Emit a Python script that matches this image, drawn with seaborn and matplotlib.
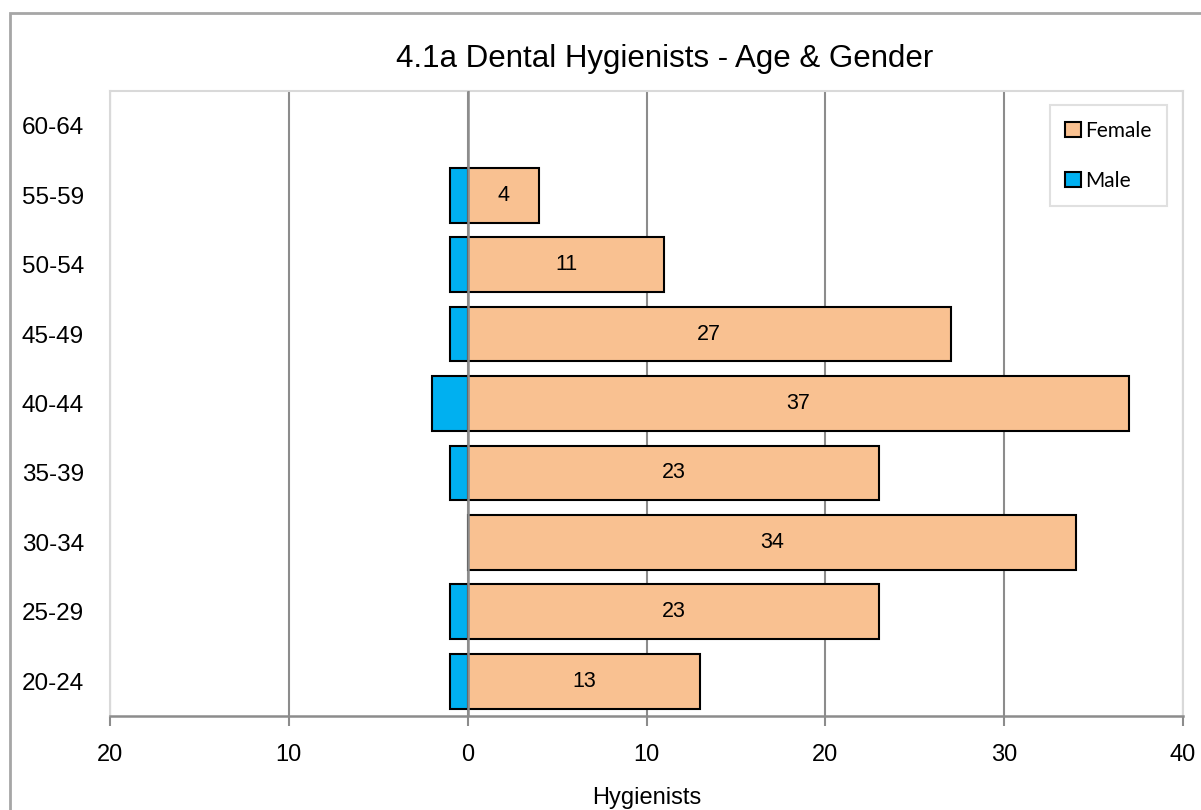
import matplotlib
matplotlib.use("Agg")
import matplotlib.pyplot as plt
import matplotlib.patches as mpatches
from matplotlib.ticker import FuncFormatter, FixedLocator
import seaborn as sns
import pandas as pd

age_groups = ["60-64", "55-59", "50-54", "45-49", "40-44", "35-39", "30-34", "25-29", "20-24"]
female = [0, 4, 11, 27, 37, 23, 34, 23, 13]
male = [0, 1, 1, 1, 2, 1, 0, 1, 1]
x_ticks = [-20, -10, 0, 10, 20, 30, 40]

title = "4.1a Dental Hygienists - Age & Gender"
xlabel = "Hygienists"

sns.set_theme(style="white")
plt.rcParams['font.family'] = ['Liberation Sans', 'DejaVu Sans']
plt.rcParams['text.color'] = 'black'
plt.rcParams['xtick.labelcolor'] = 'black'
plt.rcParams['ytick.labelcolor'] = 'black'
plt.rcParams['axes.labelcolor'] = 'black'

df = pd.DataFrame({"age": age_groups, "female": female, "male_neg": [-m for m in male]})

fig = plt.figure(figsize=(12.01, 8.10), dpi=100)
ax = fig.add_axes([110/1201, (810-716)/810, 1073/1201, 625/810])

f_col = "#F9C191"
m_col = "#00B0F0"
sns.barplot(data=df, y="age", x="female", order=age_groups, orient="h", color=f_col,
            edgecolor="black", linewidth=1.5, width=0.79, ax=ax, saturation=1, zorder=2)
sns.barplot(data=df, y="age", x="male_neg", order=age_groups, orient="h", color=m_col,
            edgecolor="black", linewidth=1.5, width=0.79, ax=ax, saturation=1, zorder=2)

for cont in ax.containers:
    for p in cont:
        if p.get_width() == 0:
            p.set_visible(False)

fc = ax.containers[0]
ax.bar_label(fc, labels=[str(v) if v else "" for v in female], label_type="center",
             fontsize=15.5, color="black")

ax.set_xlim(-20, 40)
ax.set_ylim(8.5, -0.5)
ax.xaxis.set_major_locator(FixedLocator(x_ticks))
ax.xaxis.set_major_formatter(FuncFormatter(lambda v, p: f"{abs(int(v))}"))
ax.set_axisbelow(True)
ax.grid(axis="x", color="#8c8c8c", linewidth=1.5)
ax.grid(axis="y", visible=False)
ax.axvline(0, color="#8c8c8c", linewidth=1.8, zorder=3)

for s in ["left", "top", "right"]:
    ax.spines[s].set_color("#d9d9d9")
    ax.spines[s].set_linewidth(1.5)
ax.spines["bottom"].set_color("#8c8c8c")
ax.spines["bottom"].set_linewidth(1.8)
ax.tick_params(axis="x", direction="out", length=7, width=1.5, color="#8c8c8c",
               labelsize=17, pad=13, bottom=True)
ax.tick_params(axis="y", length=0, labelsize=17.5, pad=0)
ax.set_ylabel("")
ax.set_xlabel(xlabel, fontsize=17, labelpad=15)
for lbl in ax.get_yticklabels():
    lbl.set_horizontalalignment("left")
    lbl.set_transform(ax.get_yaxis_transform())
    lbl.set_position((-88/1073, lbl.get_position()[1]))

handles = [mpatches.Patch(facecolor=f_col, edgecolor="black", linewidth=1.5, label="Female"),
           mpatches.Patch(facecolor=m_col, edgecolor="black", linewidth=1.5, label="Male")]
leg = ax.legend(handles=handles, loc="upper right",
                bbox_to_anchor=(1167/1201, (810-105)/810), bbox_transform=fig.transFigure,
                borderaxespad=0, frameon=True, fancybox=False, edgecolor="#d9d9d9",
                prop={"family": "Lato", "size": 15}, handlelength=0.75, handleheight=0.75,
                handletextpad=0.2, labelspacing=1.45, borderpad=0.75)
leg.get_frame().set_linewidth(1.5)

fig.text(665/1201, (810-67)/810, title, ha="center", va="baseline", fontsize=22.5)

fig.patches.append(mpatches.Rectangle((10/1201, -0.1), 2, (810-13)/810 + 0.1,
                                      transform=fig.transFigure, fill=False,
                                      edgecolor="#a6a6a6", linewidth=2))

fig.savefig("out.png", dpi=100)
